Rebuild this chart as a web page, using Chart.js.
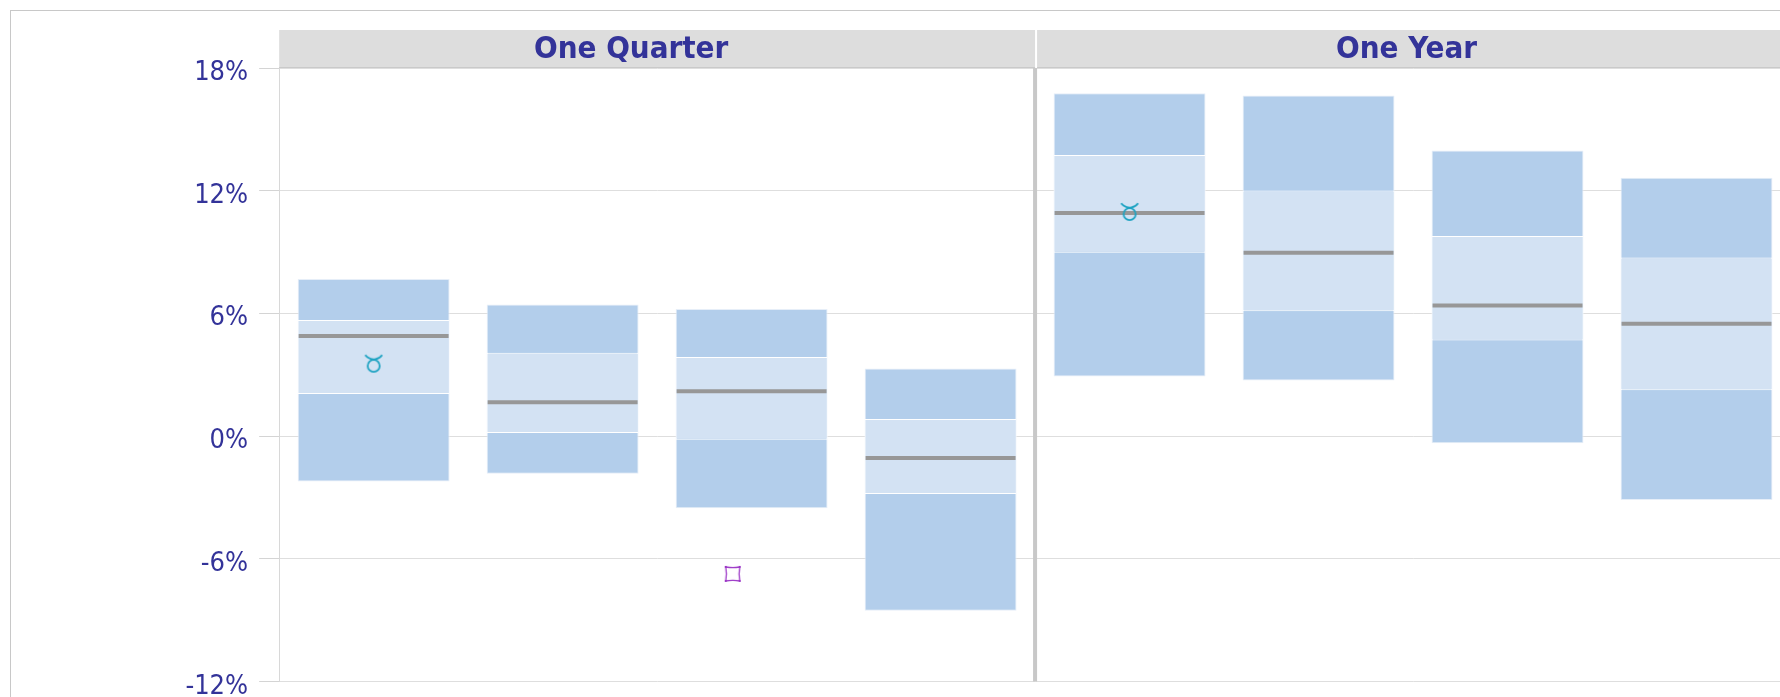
<!DOCTYPE html>
<html>
<head>
<meta charset="utf-8">
<title>Return ranges by period</title>
<script src="https://cdn.jsdelivr.net/npm/chart.js@4/dist/chart.umd.min.js"></script>
<style>
  html, body { margin: 0; padding: 0; width: 1780px; height: 697px; overflow: hidden; background: #ffffff; }
  #frame { position: absolute; left: 10px; top: 10px; width: 1900px; height: 900px; border: 1px solid #c8c8c8; box-sizing: border-box; }
  #chart { position: absolute; left: 0; top: 0; }
</style>
</head>
<body>
<div id="frame"></div>
<canvas id="chart" width="1800" height="720"></canvas>
<script>
// Panels and the four peer groups shown in each one
const panels = ['One Quarter', 'One Year'];
const categories = ['Q-1', 'Q-2', 'Q-3', 'Q-4', 'Y-1', 'Y-2', 'Y-3', 'Y-4'];

// Return distribution per group (%)
const p95 = [7.68, 6.43, 6.21, 3.30, 16.76, 16.65, 13.96, 12.63];
const p75 = [5.68, 4.08, 3.87, 0.84, 13.75, 12.01, 9.79, 8.73];
const median = [4.89, 1.65, 2.19, -1.07, 10.91, 8.97, 6.39, 5.50];
const p25 = [2.06, 0.15, -0.18, -2.83, 8.97, 6.10, 4.67, 2.24];
const p5 = [-2.22, -1.84, -3.53, -8.54, 2.92, 2.72, -0.35, -3.13];

// Individual results, placed by slot (0..8 across both panels) and return (%)
const taurusSlot = [0.5, 4.5];
const taurusValue = [3.54, 10.96];
const lozengeSlot = [2.4];
const lozengeValue = [-6.74];

// Value axis ticks (%)
const yTicks = [-12, -6, 0, 6, 12, 18];

const BAR_SHARE = 0.804;
const TEXT_BLUE = '#333399';
const TICK_FONT = "'DejaVu Sans Condensed', 'DejaVu Sans', sans-serif";

// Symbol markers drawn once onto small canvases and used as point styles
function taurusMarker() {
  const c = document.createElement('canvas');
  c.width = 24; c.height = 24;
  const g = c.getContext('2d');
  g.strokeStyle = '#1fa3c2';
  g.lineWidth = 1.8;
  g.beginPath();
  g.arc(12, 14.2, 6.0, 0, Math.PI * 2);
  g.stroke();
  g.beginPath();
  g.arc(12, -2.6, 10.2, 0.19 * Math.PI, 0.81 * Math.PI);
  g.stroke();
  return c;
}

function lozengeMarker() {
  const c = document.createElement('canvas');
  c.width = 20; c.height = 20;
  const g = c.getContext('2d');
  const col = '#9b35c6';
  const s = 7, k = 1.3, m = 10;
  g.strokeStyle = col;
  g.lineWidth = 1.3;
  g.beginPath();
  g.moveTo(m - s, m - s);
  g.quadraticCurveTo(m, m - s + k, m + s, m - s);
  g.quadraticCurveTo(m + s - k, m, m + s, m + s);
  g.quadraticCurveTo(m, m + s - k, m - s, m + s);
  g.quadraticCurveTo(m - s + k, m, m - s, m - s);
  g.closePath();
  g.stroke();
  g.fillStyle = col;
  [[m - s, m - s], [m + s, m - s], [m + s, m + s], [m - s, m + s]].forEach(([x, y]) => {
    g.fillRect(x - 1, y - 1, 2, 2);
  });
  return c;
}

// Panel headers and the divider between the two periods
const panelFrame = {
  id: 'panelFrame',
  beforeDatasetsDraw(chart) {
    const { ctx, chartArea: a, scales: { x } } = chart;
    const per = categories.length / panels.length;
    ctx.save();
    ctx.fillStyle = '#c8c8c8';
    for (let p = 1; p < panels.length; p++) {
      const bx = (x.getPixelForTick(p * per - 1) + x.getPixelForTick(p * per)) / 2;
      ctx.fillRect(bx - 2, a.top, 4, a.bottom - a.top);
    }
    ctx.restore();
  },
  afterDraw(chart) {
    const { ctx, chartArea: a, scales: { x } } = chart;
    const per = categories.length / panels.length;
    const top = a.top - 38;
    const shift = [-26, -6.5];
    ctx.save();
    panels.forEach((name, p) => {
      const l = p === 0 ? a.left : (x.getPixelForTick(p * per - 1) + x.getPixelForTick(p * per)) / 2 + 2;
      const r = p === panels.length - 1 ? a.right : (x.getPixelForTick((p + 1) * per - 1) + x.getPixelForTick((p + 1) * per)) / 2;
      ctx.fillStyle = '#dddddd';
      ctx.fillRect(l, top, r - l, a.top - top);
      ctx.fillStyle = '#c9c9c9';
      ctx.fillRect(l, a.top - 1, r - l, 1);
      const cx = p === panels.length - 1 ? (l - 2 + a.right) / 2 : (l + r) / 2;
      ctx.fillStyle = TEXT_BLUE;
      ctx.font = "bold 31px " + TICK_FONT;
      ctx.textAlign = 'center';
      ctx.textBaseline = 'alphabetic';
      ctx.fillText(name, cx + shift[p], a.top - 10);
    });
    ctx.restore();
  }
};

const medianHalfWidth = (ctx) => {
  const xs = ctx.chart.scales.x;
  return xs.width / categories.length * BAR_SHARE / 2 - 1;
};

new Chart(document.getElementById('chart'), {
  type: 'bar',
  data: {
    labels: categories,
    datasets: [
      {
        label: 'Interquartile range',
        data: p25.map((v, i) => [v, p75[i]]),
        backgroundColor: '#d3e2f3',
        borderColor: '#ffffff',
        borderWidth: 1,
        borderSkipped: false,
        grouped: false,
        barPercentage: BAR_SHARE,
        categoryPercentage: 1,
        order: 2
      },
      {
        label: '5th to 95th percentile',
        data: p5.map((v, i) => [v, p95[i]]),
        backgroundColor: '#b3ceeb',
        borderColor: '#e6eef8',
        borderWidth: 1,
        borderSkipped: false,
        grouped: false,
        barPercentage: BAR_SHARE,
        categoryPercentage: 1,
        order: 3
      },
      {
        type: 'line',
        label: 'Median',
        data: median,
        showLine: false,
        pointStyle: 'line',
        pointBorderColor: '#979797',
        pointBackgroundColor: '#979797',
        pointBorderWidth: 4,
        pointRadius: medianHalfWidth,
        order: 1
      },
      {
        type: 'line',
        label: 'Taurus',
        xAxisID: 'xm',
        data: taurusSlot.map((s, i) => ({ x: s, y: taurusValue[i] })),
        showLine: false,
        pointStyle: taurusMarker(),
        pointRadius: 8,
        order: 0
      },
      {
        type: 'line',
        label: 'Lozenge',
        xAxisID: 'xm',
        data: lozengeSlot.map((s, i) => ({ x: s, y: lozengeValue[i] })),
        showLine: false,
        pointStyle: lozengeMarker(),
        pointRadius: 8,
        order: 0
      }
    ]
  },
  options: {
    responsive: false,
    animation: false,
    events: [],
    layout: { padding: { left: 0, top: 68, right: 5.65, bottom: 38.5 } },
    plugins: { legend: { display: false }, tooltip: { enabled: false } },
    scales: {
      x: { display: false, offset: true },
      xm: { type: 'linear', display: false, offset: false, min: 0, max: categories.length },
      y: {
        min: yTicks[0],
        max: yTicks[yTicks.length - 1],
        afterBuildTicks: (s) => { s.ticks = yTicks.map(v => ({ value: v })); },
        afterFit: (s) => { s.width = 279.15; },
        ticks: {
          color: TEXT_BLUE,
          font: { family: TICK_FONT, size: 27 },
          padding: 11,
          labelOffset: 5,
          callback: (v) => v + '%'
        },
        grid: { color: '#dedede', tickLength: 20, tickColor: '#d4d4d4' },
        border: { color: '#d8d8d8' }
      }
    }
  },
  plugins: [panelFrame]
});
</script>
</body>
</html>
